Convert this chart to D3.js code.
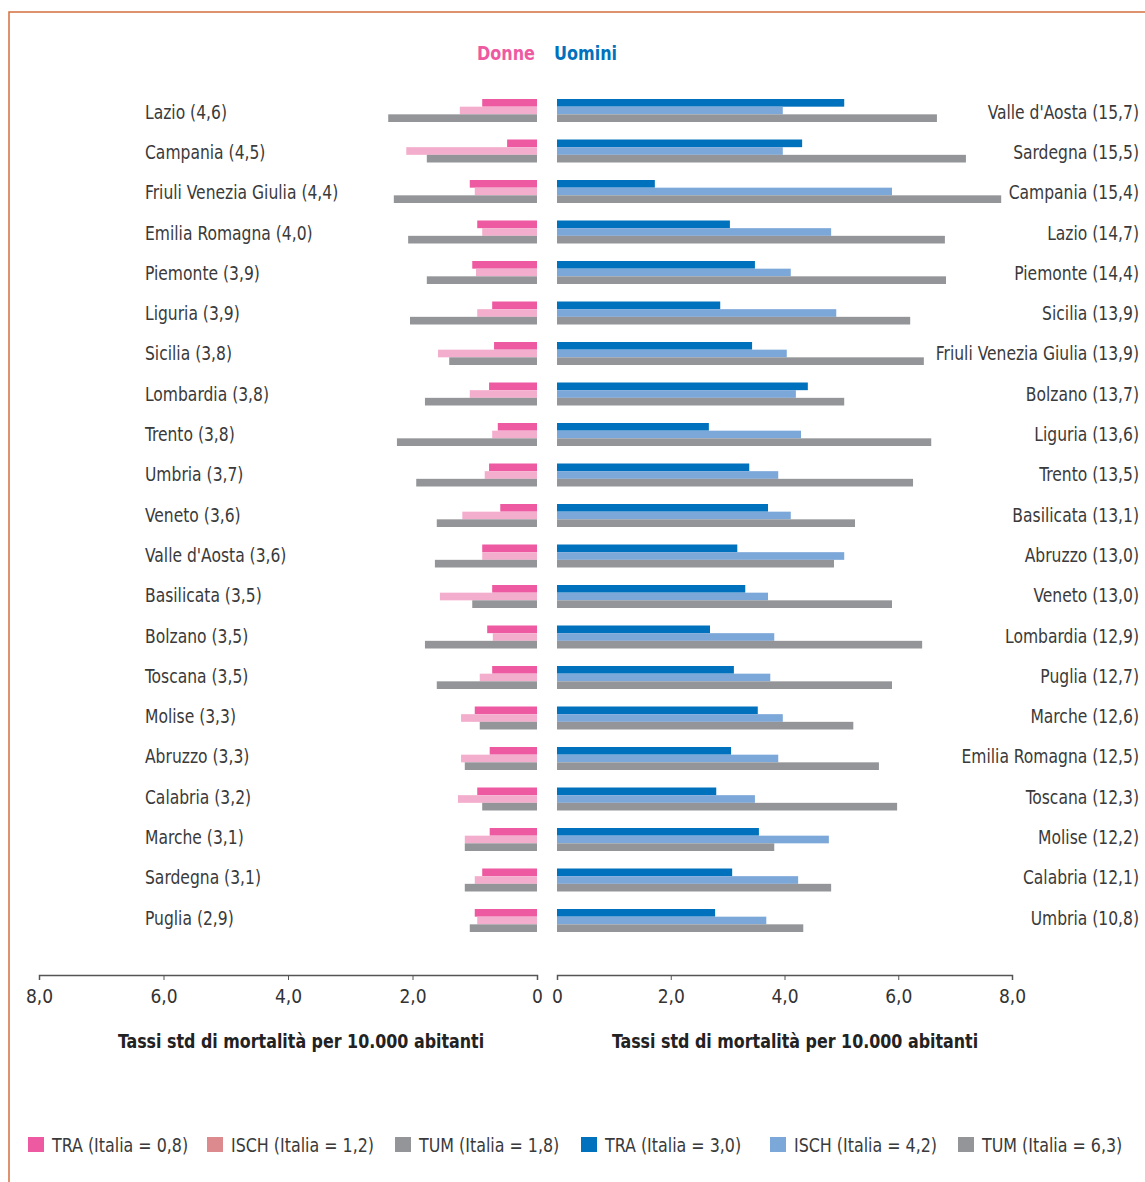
<!DOCTYPE html>
<html>
<head>
<meta charset="utf-8">
<script src="https://cdn.jsdelivr.net/npm/d3@7"></script>
<style>
  body { margin: 0; background: #fff; }
  svg text { font-family: "DejaVu Sans Condensed", "Liberation Sans Narrow", "Open Sans", sans-serif; }
</style>
</head>
<body>
<div id="chart"></div>
<script>
// donne / uomini: tassi std di mortalità (TRA, ISCH, TUM)
const donneRegioni = ["Lazio (4,6)", "Campania (4,5)", "Friuli Venezia Giulia (4,4)", "Emilia Romagna (4,0)",
  "Piemonte (3,9)", "Liguria (3,9)", "Sicilia (3,8)", "Lombardia (3,8)", "Trento (3,8)", "Umbria (3,7)",
  "Veneto (3,6)", "Valle d'Aosta (3,6)", "Basilicata (3,5)", "Bolzano (3,5)", "Toscana (3,5)",
  "Molise (3,3)", "Abruzzo (3,3)", "Calabria (3,2)", "Marche (3,1)", "Sardegna (3,1)", "Puglia (2,9)"];
const donneTRA  = [0.88, 0.48, 1.08, 0.96, 1.04, 0.72, 0.69, 0.77, 0.63, 0.77, 0.59, 0.88, 0.72, 0.80, 0.72, 1.00, 0.76, 0.96, 0.76, 0.88, 1.00];
const donneISCH = [1.24, 2.10, 1.00, 0.88, 0.98, 0.96, 1.59, 1.08, 0.72, 0.84, 1.20, 0.88, 1.56, 0.71, 0.92, 1.22, 1.22, 1.27, 1.16, 1.00, 0.96];
const donneTUM  = [2.39, 1.77, 2.30, 2.07, 1.77, 2.04, 1.41, 1.80, 2.25, 1.94, 1.61, 1.64, 1.04, 1.80, 1.61, 0.92, 1.16, 0.88, 1.16, 1.16, 1.08];

const uominiRegioni = ["Valle d'Aosta (15,7)", "Sardegna (15,5)", "Campania (15,4)", "Lazio (14,7)",
  "Piemonte (14,4)", "Sicilia (13,9)", "Friuli Venezia Giulia (13,9)", "Bolzano (13,7)", "Liguria (13,6)",
  "Trento (13,5)", "Basilicata (13,1)", "Abruzzo (13,0)", "Veneto (13,0)", "Lombardia (12,9)",
  "Puglia (12,7)", "Marche (12,6)", "Emilia Romagna (12,5)", "Toscana (12,3)", "Molise (12,2)",
  "Calabria (12,1)", "Umbria (10,8)"];
const uominiTRA  = [5.05, 4.31, 1.72, 3.04, 3.48, 2.87, 3.43, 4.41, 2.67, 3.38, 3.71, 3.17, 3.31, 2.69, 3.11, 3.53, 3.06, 2.80, 3.55, 3.08, 2.78];
const uominiISCH = [3.97, 3.97, 5.89, 4.82, 4.11, 4.91, 4.04, 4.20, 4.29, 3.89, 4.11, 5.05, 3.71, 3.82, 3.75, 3.97, 3.89, 3.48, 4.78, 4.24, 3.68];
const uominiTUM  = [6.68, 7.19, 7.81, 6.82, 6.84, 6.21, 6.45, 5.05, 6.58, 6.26, 5.24, 4.87, 5.89, 6.42, 5.89, 5.21, 5.66, 5.98, 3.82, 4.82, 4.33];

const serie = ["TRA", "ISCH", "TUM"];
const tickValori = [0, 2, 4, 6, 8];
const legendaVoci = ["TRA (Italia = 0,8)", "ISCH (Italia = 1,2)", "TUM (Italia = 1,8)",
  "TRA (Italia = 3,0)", "ISCH (Italia = 4,2)", "TUM (Italia = 6,3)"];

const coloriDonne  = ["#ee5aa1", "#f4aecd", "#939598"];
const coloriUomini = ["#0071bc", "#7ca7d9", "#939598"];
const coloriLegenda = ["#ee5aa1", "#dc8a8d", "#939598", "#0071bc", "#7ca7d9", "#939598"];

const width = 1145, height = 1182;
const svg = d3.select("#chart").append("svg")
  .attr("width", width)
  .attr("height", height);

// testo "stretto": il font condensato non c'è, si comprime in orizzontale
function testo(g, x, yy, sx, size) {
  return g.append("text")
    .attr("transform", `scale(${sx},1)`)
    .attr("x", x / sx)
    .attr("y", yy)
    .attr("dy", "0.35em")
    .style("font-size", size + "px");
}

// cornice
svg.append("path")
  .attr("d", `M9,${height} L9,12 L${width},12`)
  .attr("fill", "none")
  .attr("stroke", "#d4703f")
  .attr("stroke-width", 1.5);

const y = d3.scaleBand().domain(d3.range(21)).range([99, 99 + 21 * 40.5]);
const ySub = d3.scaleBand().domain(serie).range([0, 23]);
const yEt = d3.scalePoint().domain(d3.range(21)).range([112, 918]);

const xD = d3.scaleLinear().domain([0, 8]).range([537, 39]);
const xU = d3.scaleLinear().domain([0, 8]).range([557, 1012]);

const dD = donneRegioni.map((r, i) => ({ i, vals: [donneTRA[i], donneISCH[i], donneTUM[i]] }));
const dU = uominiRegioni.map((r, i) => ({ i, vals: [uominiTRA[i], uominiISCH[i], uominiTUM[i]] }));

// barre donne
const gD = svg.append("g").selectAll("g").data(dD).enter().append("g")
  .attr("transform", d => `translate(0,${y(d.i)})`);
gD.selectAll("rect").data(d => d.vals.map((v, k) => ({ v, k }))).enter().append("rect")
  .attr("x", d => xD(d.v))
  .attr("y", d => ySub(serie[d.k]))
  .attr("width", d => xD(0) - xD(d.v))
  .attr("height", ySub.bandwidth())
  .attr("fill", d => coloriDonne[d.k]);

// barre uomini
const gU = svg.append("g").selectAll("g").data(dU).enter().append("g")
  .attr("transform", d => `translate(0,${y(d.i)})`);
gU.selectAll("rect").data(d => d.vals.map((v, k) => ({ v, k }))).enter().append("rect")
  .attr("x", xU(0))
  .attr("y", d => ySub(serie[d.k]))
  .attr("width", d => xU(d.v) - xU(0))
  .attr("height", ySub.bandwidth())
  .attr("fill", d => coloriUomini[d.k]);

// etichette regioni
const etD = svg.append("g");
donneRegioni.forEach((r, i) => {
  testo(etD, 145, yEt(i), 0.91, 19).attr("fill", "#3a3a3a").text(r);
});
const etU = svg.append("g");
uominiRegioni.forEach((r, i) => {
  testo(etU, 1139, yEt(i), 0.91, 19).attr("text-anchor", "end").attr("fill", "#3a3a3a").text(r);
});

// intestazioni
testo(svg, 535, 53, 0.89, 20).attr("text-anchor", "end").style("font-weight", "bold")
  .attr("fill", "#ee5aa1").text("Donne");
testo(svg, 554, 53, 0.89, 20).style("font-weight", "bold")
  .attr("fill", "#0071bc").text("Uomini");

// assi
const fmt = d => d === 0 ? "0" : d.toFixed(1).replace(".", ",");
function stileAsse(g) {
  g.select(".domain").attr("stroke", "#555").attr("stroke-width", 1.5);
  g.selectAll(".tick line").attr("stroke", "#555");
  g.selectAll(".tick text").attr("fill", "#333")
    .style("font-size", "19px")
    .style("font-family", '"DejaVu Sans Condensed", sans-serif');
}
svg.append("g").attr("transform", "translate(0,975)")
  .call(d3.axisBottom(xD).tickValues(tickValori).tickFormat(fmt).tickSize(5).tickSizeOuter(5).tickPadding(10))
  .call(stileAsse);
svg.append("g").attr("transform", "translate(0,975)")
  .call(d3.axisBottom(xU).tickValues(tickValori).tickFormat(fmt).tickSize(5).tickSizeOuter(5).tickPadding(10))
  .call(stileAsse);

const titoloAsse = "Tassi std di mortalità per 10.000 abitanti";
[301, 795].forEach(cx => {
  testo(svg, cx, 1041, 0.93, 19).attr("text-anchor", "middle").style("font-weight", "bold")
    .attr("fill", "#222").text(titoloAsse);
});

// legenda
const legX = [28, 207, 395, 581, 770, 958];
const leg = svg.append("g");
legendaVoci.forEach((v, i) => {
  leg.append("rect").attr("x", legX[i]).attr("y", 1137).attr("width", 16).attr("height", 15)
    .attr("fill", coloriLegenda[i]);
  testo(leg, legX[i] + 24, 1145, 0.93, 19).attr("fill", "#3a3a3a").text(v);
});
</script>
</body>
</html>
